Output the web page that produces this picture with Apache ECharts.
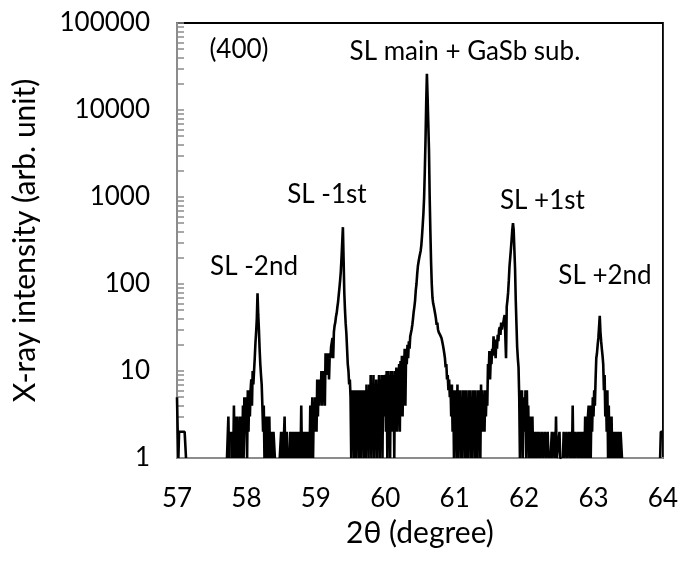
<!DOCTYPE html>
<html><head><meta charset="utf-8">
<script src="https://cdn.jsdelivr.net/npm/echarts@6/dist/echarts.min.js"></script>
<style>html,body{margin:0;padding:0;background:#fff}#c{width:681px;height:562px}</style>
</head><body><div id="c"></div>
<script>
// 2theta grid: 57.00 .. 64.00 step 0.01 ; counts per 0.01 deg (0 = no count)
const xStart = 57, xStep = 0.01;
const d57 = [5,2,1,2,2,2,2,2,2,2, 2,2,2,1,1,0,0,0,0,0, 0,0,0,0,0,0,0,0,0,0, 1,1,0,0,0,0,0,0,0,0,
             0,0,0,0,0,0,0,0,0,0, 0,0,1,1,0,0,1,1,0,0, 0,0,0,0,0,1,1,0,1,1, 0,0,1,1,3,1,1,0,2,1,
             2,1,4,1,3,1,3,1,2,1, 3,1,3,2,1,4,1,5,2,5];
const d58 = [5,1,6,2,6,3,6,8,4,10, 7,10,14,21,28,40,78,45,30,18, 12,9,7,4,2,4,1,3,1,3, 1,3,1,3,1,2,1,2,1,2,
             2,1,0,0,0,1,1,0,1,1, 2,1,2,1,1,3,1,1,2,1, 1,0,1,2,1,2,1,2,2,1, 2,1,2,1,2,2,1,2,1,4,
             1,2,1,2,1,2,2,1,2,1, 2,1,4,1,3,5,1,4,2,5];
const d59 = [5,2,8,3,8,4,8,5,10,4, 10,6,10,4,16,9,16,12,16,8, 15,14,19,20,24,14,28,33,36,42, 46,54,62,75,90,110,140,200,300,450,
             190,80,50,35,27,18,12,10,7,8, 5,1,6,2,6,1,6,5,1,6, 2,6,1,5,6,1,6,2,6,1, 6,5,1,7,2,6,1,7,2,9,
             1,6,2,9,1,7,2,8,1,6, 2,9,1,8,2,9,1,9,3,8];
const d60 = [9,2,10,1,10,3,9,1,10,2, 10,4,9,1,10,3,11,2,10,6, 12,2,13,8,15,3,15,10,18,4, 16,12,20,14,22,18,25,24,30,34,
             40,48,55,65,85,100,130,160,180,200, 220,240,280,360,480,650,1000,2000,4500,12000,
             26000,14000,7000,3500,1000,400,180,100,70,60, 55,50,45,40,34,36,30,28,27,26,
             25,24,22,20,18,16,14,11,12,8, 9,6,8,5,7,3,7,2,6,1];
const d61 = [6,2,6,1,7,1,6,2,6,1, 5,1,6,2,6,1,6,1,4,1, 6,2,6,1,5,1,6,2,6,1, 6,1,4,1,6,2,6,1,7,2,
             6,2,5,2,6,3,6,4,12,9, 17,8,14,12,18,15,25,16,22,14, 23,18,26,22,30,32,26,36,30,34,
             36,40,44,46,14,55,65,80,110,160, 200,250,320,420,500,420,250,150,65,35, 19,14,11,5,1,6,2,6,1,5];
const d62 = [5,2,6,1,6,2,4,1,3,1, 3,1,3,1,2,1,2,1,2,1, 2,1,2,1,1,1,2,1,1,1, 2,1,1,1,2,1,1,0,1,1,
             2,1,1,1,2,1,3,1,1,1, 1,2,1,1,1,0,1,2,1,1, 1,2,1,1,1,2,1,1,2,1, 4,1,1,2,1,1,1,2,1,1,
             2,1,1,2,1,1,2,1,3,1, 3,1,3,4,1,4,1,4,2,5];
const d63 = [3,6,4,8,14,16,20,24,32,43, 28,22,18,15,12,6,9,3,6,2, 6,1,4,1,3,1,3,1,2,1, 2,2,1,2,2,1,2,2,1,2,
             2,1,1,0,0,0,0,1,1,0, 0,0,0,0,0,0,0,0,0,0, 0,0,0,0,0,0,0,0,0,0, 0,0,0,0,0,0,1,1,0,0,
             1,1,0,1,1,0,0,0,0,0, 0,0,0,1,1,0,1,2,2,2];
const d64 = [2];

const xTicks = [57, 58, 59, 60, 61, 62, 63, 64];
const yTickLabels = [1, 10, 100, 1000, 10000, 100000];

const annTexts = ['(400)', 'SL main + GaSb sub.', 'SL -1st', 'SL -2nd', 'SL +1st', 'SL +2nd'];
const annX = [57.893, 61.148, 59.160, 58.109, 62.264, 63.165];
const annY = [48950, 46400, 1054, 157, 900, 124];

const counts = [].concat(d57, d58, d59, d60, d61, d62, d63, d64);
const data = counts.map((v, i) => [+(xStart + i * xStep).toFixed(2), v > 0 ? v : null]);

const minorTicks = [];
for (let k = 0; k < yTickLabels.length; k++) {
  for (let m = 1; m <= 9; m++) {
    const v = yTickLabels[k] * m;
    if (v <= yTickLabels[yTickLabels.length - 1]) minorTicks.push(v);
  }
}

const FONT = 'Lato';
const FS = 26;
const FT = 30;
const chart = echarts.init(document.getElementById('c'), null, {renderer: 'canvas'});
chart.setOption({
  animation: false,
  backgroundColor: '#fff',
  grid: {left: 177, top: 23, right: 18, bottom: 104, show: true, borderColor: '#000', borderWidth: 1.8, backgroundColor: 'transparent'},
  xAxis: {
    type: 'value', min: xTicks[0], max: xTicks[xTicks.length - 1], interval: 1,
    name: '2θ (degree)', nameLocation: 'middle', nameGap: 60,
    nameTextStyle: {fontFamily: FONT, fontSize: FT, color: '#000'},
    axisLine: {show: true, lineStyle: {color: '#8c8c8c', width: 2}},
    axisTick: {show: false},
    splitLine: {show: false},
    axisLabel: {fontFamily: FONT, fontSize: FS, color: '#000', margin: 28}
  },
  yAxis: {
    type: 'log', logBase: 10, min: yTickLabels[0], max: yTickLabels[yTickLabels.length - 1],
    name: 'X-ray intensity (arb. unit)', nameLocation: 'middle', nameGap: 137,
    nameTextStyle: {fontFamily: FONT, fontSize: FT, color: '#000'},
    axisLine: {show: true, lineStyle: {color: '#8c8c8c', width: 2}},
    axisTick: {show: true, inside: true, length: 7, customValues: minorTicks, lineStyle: {color: '#8c8c8c', width: 1.5}},
    splitLine: {show: false},
    axisLabel: {fontFamily: FONT, fontSize: FS, color: '#000', margin: 27, customValues: yTickLabels,
      formatter: v => String(Math.round(v))}
  },
  series: [{
    type: 'line', data: data, showSymbol: false, connectNulls: false,
    lineStyle: {color: '#000', width: 2.6}, itemStyle: {color: '#000'},
    z: 3,
    markPoint: {
      symbol: 'circle', symbolSize: 0, silent: true,
      label: {show: true, position: 'inside', fontFamily: FONT, fontSize: FS, color: '#000'},
      data: annTexts.map((t, i) => ({coord: [annX[i], annY[i]], value: t, label: {formatter: t}}))
    }
  }]
});
</script></body></html>
